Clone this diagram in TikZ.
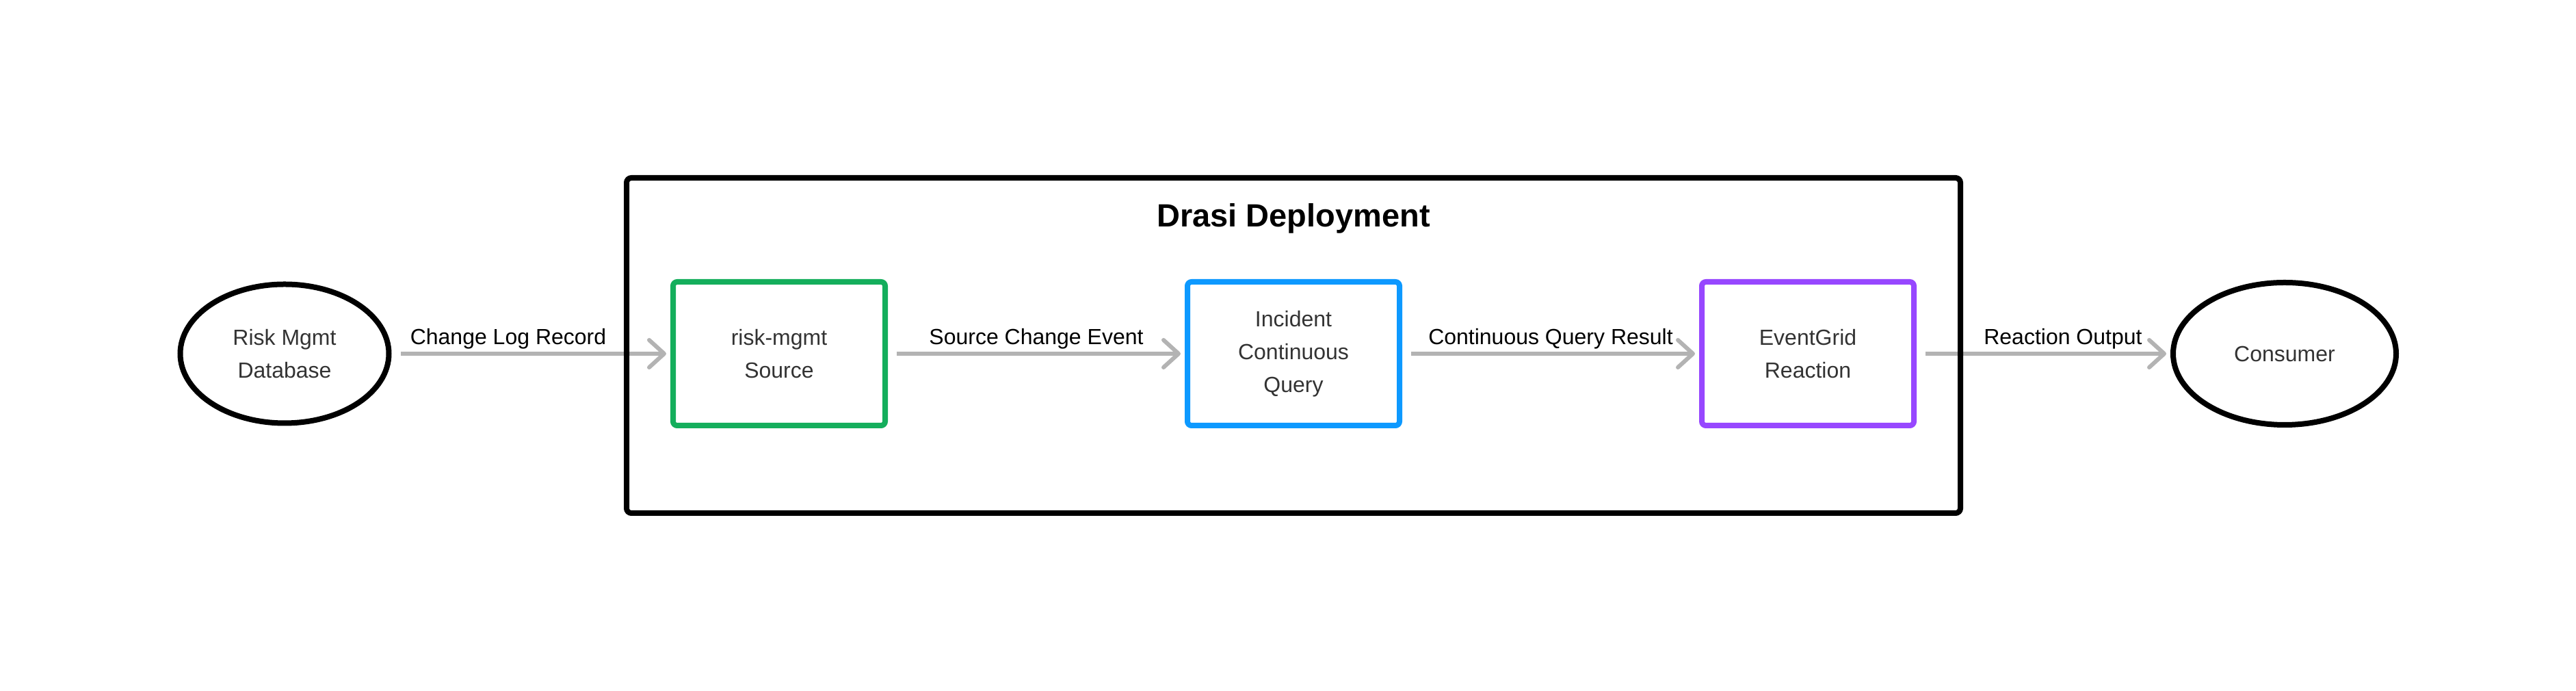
\documentclass[tikz,border=0pt]{standalone}
\usepackage{fontspec}
\setmainfont{Liberation Sans}
\usetikzlibrary{positioning,fit,arrows.meta,shapes.geometric}
\definecolor{srcgreen}{HTML}{14AE5C}
\definecolor{queryblue}{HTML}{0D99FF}
\definecolor{reactpurple}{HTML}{9747FF}
\definecolor{arrowgray}{HTML}{B3B3B3}
\definecolor{nodetext}{HTML}{333333}
\newcommand\nodefont{\fontsize{16}{24}\selectfont}
\newcommand\labelfont{\fontsize{16}{19}\selectfont}
\newcommand\titlefont{\fontsize{23.5}{28}\selectfont\bfseries}
\tikzset{
    >={Straight Barb[length=11pt,width=20pt,round]},
    endpoint/.style={
        ellipse,
        draw=black, line width=4pt,
        outer sep=0pt,
        text=nodetext,
        font=\nodefont,
        align=center
    },
    stage/.style={
        rectangle,
        rounded corners=3pt,
        line width=4pt,
        outer sep=0pt,
        minimum width=155pt,
        minimum height=105pt,
        text=nodetext,
        font=\nodefont,
        align=center
    },
    line/.style={draw, line width=3pt, arrowgray, ->, shorten <=8.5pt, shorten >=5pt},
    lbl/.style={anchor=base, yshift=6.5pt, text=black, font=\labelfont},
    deploybox/.style={
        rectangle,
        rounded corners=3.5pt,
        draw=black, line width=4pt,
        outer sep=0pt
    },
    titletext/.style={anchor=base, font=\titlefont, text=black}
}
\begin{document}
\begin{tikzpicture}[node distance=221pt]
    \useasboundingbox (0,0) rectangle (1883pt,505pt);
    \node[endpoint, minimum width=152.5pt, minimum height=101.5pt] (riskDb) at (208pt,246.5pt) {Risk Mgmt\\Database};
    \node[stage, draw=srcgreen, right=207.75pt of riskDb] (src) {risk-mgmt\\Source};
    \node[stage, draw=queryblue, right=of src] (query) {Incident\\Continuous\\Query};
    \node[stage, draw=reactpurple, right=of query] (reaction) {EventGrid\\Reaction};
    \node[endpoint, minimum width=163pt, minimum height=104pt, right=189.5pt of reaction] (consumer) {Consumer};

    % -- Connectors -- %
    \path[line] (riskDb) -- node[lbl, pos=0.42] {Change Log Record} (src);
    \path[line] (src) -- node[lbl, midway] {Source Change Event} (query);
    \path[line] (query) -- node[lbl, midway] {Continuous Query Result} (reaction);
    \path[line] (reaction) -- node[lbl, pos=0.575] {Reaction Output} (consumer);

    % -- Deployment frame -- %
    \node[deploybox, fit=(src) (reaction), inner xsep=34pt, inner ysep=70pt, yshift=6pt] (deploy) {};
    \node[titletext] (title) at ([yshift=-36pt]deploy.north) {Drasi Deployment};
\end{tikzpicture}
\end{document}
